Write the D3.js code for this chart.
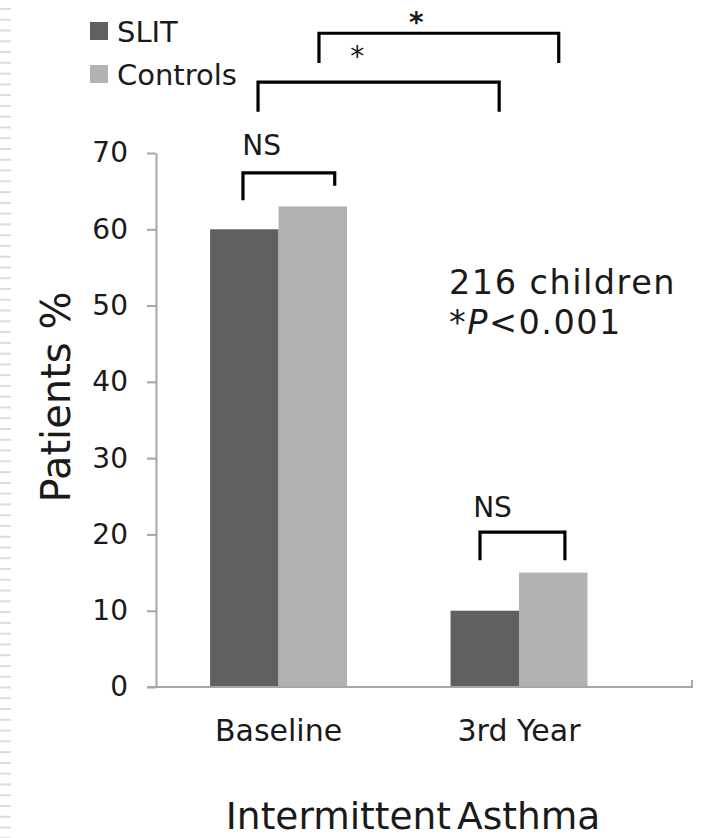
<!DOCTYPE html>
<html>
<head>
<meta charset="utf-8">
<script src="https://cdn.jsdelivr.net/npm/d3@7"></script>
<style>
  html, body { margin: 0; padding: 0; background: #fff; }
  svg { display: block; }
  text { font-family: "DejaVu Sans", Verdana, sans-serif; fill: #1a1a1a; }
</style>
</head>
<body>
<svg id="chart" width="722" height="838"></svg>
<script>
// Share of patients with intermittent asthma, by group and time point
const categories = ["Baseline", "3rd Year"];
const seriesNames = ["SLIT", "Controls"];
const slitValues = [60, 10];
const controlValues = [63, 15];
const seriesColors = ["#606060", "#b2b2b2"];
const yTicks = [0, 10, 20, 30, 40, 50, 60, 70];

// Significance brackets: leg anchors are [category, series, fraction of bar width
// from the bar's left edge]; heights are in the y axis units (%)
const brackets = [
  { from: ["Baseline", "SLIT", 0.48], to: ["Baseline", "Controls", 0.82], top: 67.4, legFrom: 63.8, legTo: 65.7,
    label: "NS", labelAt: ["Baseline", "SLIT", 0.47], labelY: 69.7 },
  { from: ["3rd Year", "SLIT", 0.43], to: ["3rd Year", "Controls", 0.67], top: 20.3, legFrom: 16.6, legTo: 16.6,
    label: "NS", labelAt: ["3rd Year", "SLIT", 0.33], labelY: 22.3 },
  { from: ["Baseline", "SLIT", 0.70], to: ["3rd Year", "SLIT", 0.71], top: 79.3, legFrom: 75.4, legTo: 75.4 },
  { from: ["Baseline", "Controls", 0.59], to: ["3rd Year", "Controls", 0.58], top: 85.7, legFrom: 81.8, legTo: 81.8 }
];
const stars = [
  { at: ["Baseline", "Controls", 1.15], y: 81.4, bold: false },
  { at: ["3rd Year", "SLIT", -0.50], y: 85.9, bold: true }
];

const svg = d3.select("#chart");

const plot = { left: 156, right: 692, top: 153, bottom: 687 };

const y = d3.scaleLinear().domain([0, 70]).range([plot.bottom, plot.top]);
const x0 = d3.scaleBand().domain(categories).range([162, 635.6]).paddingInner(0.4304).paddingOuter(0.2);
const x1 = d3.scaleBand().domain(seriesNames).range([0, x0.bandwidth()]);

// x position from [category, series, fraction of bar width from its left edge]
const px = ([c, s, f]) => x0(c) + x1(s) + f * x1.bandwidth();

// Dashed strip down the left edge
svg.append("g")
  .selectAll("rect")
  .data(d3.range(8, 838, 10.77))
  .join("rect")
  .attr("x", 0).attr("y", d => d)
  .attr("width", 11).attr("height", 2)
  .attr("fill", "#dcdcdc");

// Y axis
const yAxis = svg.append("g")
  .attr("transform", `translate(${plot.left},0)`)
  .call(d3.axisLeft(y).tickValues(yTicks).tickSize(9).tickPadding(19).tickSizeOuter(0));
yAxis.select(".domain").attr("stroke", "#a6a6a6").attr("stroke-width", 2);
yAxis.selectAll(".tick line").attr("stroke", "#a6a6a6").attr("stroke-width", 2);
yAxis.selectAll(".tick text")
  .attr("fill", "#1a1a1a")
  .style("font-size", "28px")
  .style("font-family", '"DejaVu Sans", Verdana, sans-serif');

// Bars
const groups = svg.append("g")
  .selectAll("g")
  .data(categories)
  .join("g")
  .attr("transform", c => `translate(${x0(c)},0)`);

groups.selectAll("rect")
  .data((c, i) => [
    { series: "SLIT", value: slitValues[i] },
    { series: "Controls", value: controlValues[i] }
  ])
  .join("rect")
  .attr("x", d => x1(d.series))
  .attr("y", d => y(d.value))
  .attr("width", x1.bandwidth())
  .attr("height", d => y(0) - y(d.value))
  .attr("fill", (d, i) => seriesColors[i]);

// X axis line (category axis with end tick)
svg.append("line")
  .attr("x1", plot.left - 9).attr("x2", plot.right)
  .attr("y1", plot.bottom).attr("y2", plot.bottom)
  .attr("stroke", "#a6a6a6").attr("stroke-width", 2);
svg.append("line")
  .attr("x1", plot.right).attr("x2", plot.right)
  .attr("y1", plot.bottom - 7).attr("y2", plot.bottom + 1)
  .attr("stroke", "#a6a6a6").attr("stroke-width", 2);

// Category labels
svg.append("g")
  .selectAll("text")
  .data(categories)
  .join("text")
  .attr("x", c => x0(c) + x0.bandwidth() / 2)
  .attr("y", 741)
  .attr("text-anchor", "middle")
  .style("font-size", "30px")
  .text(c => c);

// Axis titles
svg.append("text")
  .attr("transform", "translate(70,397) rotate(-90)")
  .attr("text-anchor", "middle")
  .style("font-size", "40px")
  .text("Patients %");

svg.append("text")
  .attr("x", 413).attr("y", 829)
  .attr("text-anchor", "middle")
  .style("font-size", "37.5px")
  .style("word-spacing", "-6px")
  .text("Intermittent Asthma");

// Legend
const legend = svg.append("g").selectAll("g")
  .data(seriesNames)
  .join("g")
  .attr("transform", (d, i) => `translate(90,${22 + i * 43})`);
legend.append("rect")
  .attr("width", 18).attr("height", 18)
  .attr("fill", (d, i) => seriesColors[i]);
legend.append("text")
  .attr("x", 27).attr("y", 20)
  .style("font-size", "29px")
  .text(d => d);

// Significance brackets
const bg = svg.append("g");
brackets.forEach(b => {
  const xa = px(b.from), xb = px(b.to);
  bg.append("path")
    .attr("d", `M${xa},${y(b.legFrom)}V${y(b.top)}H${xb}V${y(b.legTo)}`)
    .attr("fill", "none")
    .attr("stroke", "#000")
    .attr("stroke-width", 3.2)
    .attr("stroke-linejoin", "miter");
  if (b.label) {
    bg.append("text")
      .attr("x", px(b.labelAt))
      .attr("y", y(b.labelY))
      .style("font-size", "28px")
      .text(b.label);
  }
});

svg.append("g").selectAll("text")
  .data(stars)
  .join("text")
  .attr("x", d => px(d.at))
  .attr("y", d => y(d.y))
  .attr("text-anchor", "middle")
  .style("font-size", "28px")
  .style("font-weight", d => d.bold ? "bold" : "normal")
  .attr("fill", "#000")
  .text("*");

// Study note
const note = svg.append("text")
  .style("font-size", "33.5px")
  .style("letter-spacing", "1.5px");
note.append("tspan").attr("x", 449).attr("y", 294).text("216 children");
const l2 = note.append("tspan").attr("x", 449).attr("y", 334);
l2.append("tspan").text("*");
l2.append("tspan").style("font-style", "italic").text("P");
l2.append("tspan").text("<0.001");
</script>
</body>
</html>
